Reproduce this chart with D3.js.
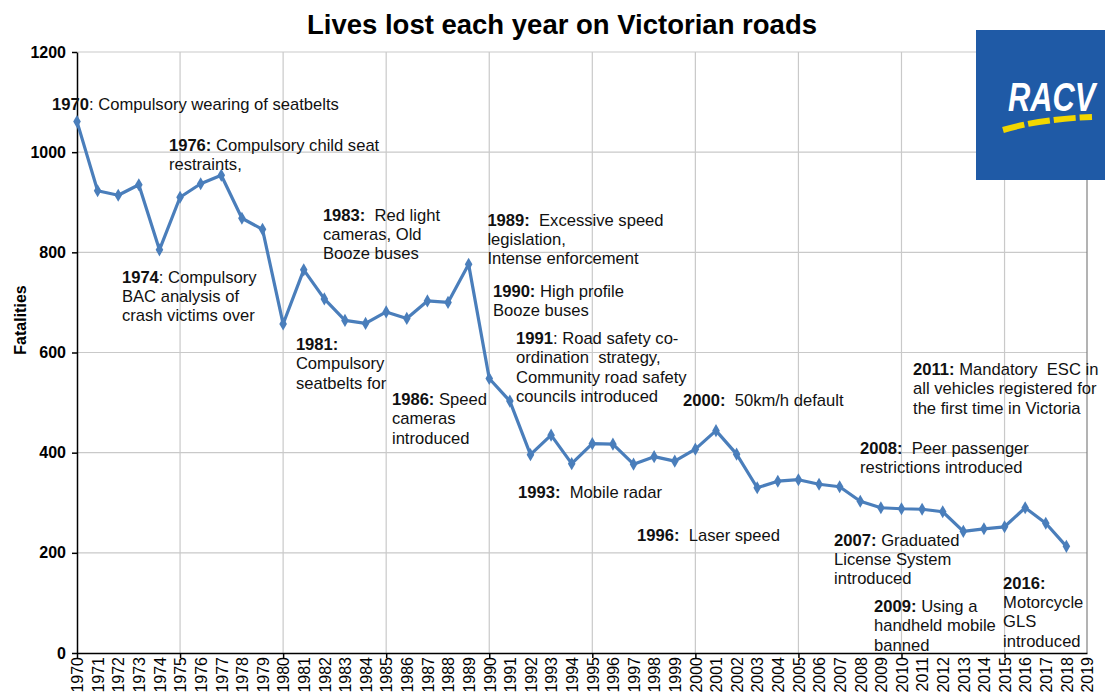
<!DOCTYPE html>
<html>
<head>
<meta charset="utf-8">
<script src="https://cdn.jsdelivr.net/npm/d3@7"></script>
<style>
  body { margin: 0; background: #fff; }
  svg { display: block; font-family: "Liberation Sans", Arial, sans-serif; }
  svg text { white-space: pre; }
</style>
</head>
<body>
<div id="container"></div>
<script>
/* DATA */
const years = [1970, 1971, 1972, 1973, 1974, 1975, 1976, 1977, 1978, 1979,
  1980, 1981, 1982, 1983, 1984, 1985, 1986, 1987, 1988, 1989,
  1990, 1991, 1992, 1993, 1994, 1995, 1996, 1997, 1998, 1999,
  2000, 2001, 2002, 2003, 2004, 2005, 2006, 2007, 2008, 2009,
  2010, 2011, 2012, 2013, 2014, 2015, 2016, 2017, 2018];
const fatalities = [1061, 923, 914, 935, 805, 910, 937, 954, 868, 846,
  657, 765, 707, 664, 658, 681, 668, 703, 700, 776,
  548, 503, 396, 435, 378, 418, 417, 377, 392, 383,
  407, 444, 397, 330, 343, 346, 337, 332, 303, 290,
  288, 287, 282, 243, 248, 252, 290, 259, 213];
const yearLabels = [1970, 1971, 1972, 1973, 1974, 1975, 1976, 1977, 1978, 1979,
  1980, 1981, 1982, 1983, 1984, 1985, 1986, 1987, 1988, 1989,
  1990, 1991, 1992, 1993, 1994, 1995, 1996, 1997, 1998, 1999,
  2000, 2001, 2002, 2003, 2004, 2005, 2006, 2007, 2008, 2009,
  2010, 2011, 2012, 2013, 2014, 2015, 2016, 2017, 2018, 2019];
const yearTicks = [1970, 1975, 1980, 1985, 1990, 1995, 2000, 2005, 2010, 2015];
const valueTicks = [0, 200, 400, 600, 800, 1000, 1200];

// annotation text: bold head, rest of first line, following lines
const notes = [
  { head: "1970", first: ": Compulsory wearing of seatbelts", more: [] },
  { head: "1976:", first: " Compulsory child seat", more: ["restraints,"] },
  { head: "1983:", first: "  Red light", more: ["cameras, Old", "Booze buses"] },
  { head: "1974", first: ": Compulsory", more: ["BAC analysis of", "crash victims over"] },
  { head: "1989:", first: "  Excessive speed", more: ["legislation,", "Intense enforcement"] },
  { head: "1990:", first: " High profile", more: ["Booze buses"] },
  { head: "1991", first: ": Road safety co-", more: ["ordination  strategy,", "Community road safety", "councils introduced"] },
  { head: "1981:", first: "", more: ["Compulsory", "seatbelts for"] },
  { head: "1986:", first: " Speed", more: ["cameras", "introduced"] },
  { head: "2000:", first: "  50km/h default", more: [] },
  { head: "2011:", first: " Mandatory  ESC in", more: ["all vehicles registered for", "the first time in Victoria"] },
  { head: "2008:", first: "  Peer passenger", more: ["restrictions introduced"] },
  { head: "1993:", first: "  Mobile radar", more: [] },
  { head: "1996:", first: "  Laser speed", more: [] },
  { head: "2007:", first: " Graduated", more: ["License System", "introduced"] },
  { head: "2009:", first: " Using a", more: ["handheld mobile", "banned"] },
  { head: "2016:", first: "", more: ["Motorcycle", "GLS", "introduced"] }
];
// where each note's first baseline sits, in chart units [year, fatalities]
const notePlace = [
  [1968.79, 1084], [1974.46, 1002], [1981.93, 863], [1972.18, 739],
  [1989.91, 853], [1990.18, 711], [1991.30, 617], [1980.62, 605],
  [1985.28, 495], [1999.40, 493], [2010.56, 555], [2007.99, 397],
  [1991.40, 309], [1997.17, 224], [2006.73, 214], [2008.67, 82],
  [2014.93, 128]
];

/* CONSTANTS */
const width = 1105;
const height = 700;
const plotLeft = 77, plotRight = 1087, plotTop = 52, plotBottom = 653;

const data = years.map((y, i) => ({ year: y, value: fatalities[i] }));

/* SCALES */
const xScale = d3.scaleLinear().domain([1970, 2019]).range([plotLeft, plotRight]);
const yScale = d3.scaleLinear().domain([0, 1200]).range([plotBottom, plotTop]);

const svg = d3.select("#container")
  .append("svg")
  .attr("width", width)
  .attr("height", height);

// grid
svg.append("g")
  .selectAll("line")
  .data(valueTicks.filter(d => d > 0))
  .join("line")
  .attr("x1", plotLeft).attr("x2", plotRight)
  .attr("y1", d => yScale(d)).attr("y2", d => yScale(d))
  .attr("stroke", "#c9c9c9").attr("stroke-width", 1.2);

svg.append("g")
  .selectAll("line")
  .data(yearTicks.filter(d => d > 1970))
  .join("line")
  .attr("x1", d => xScale(d)).attr("x2", d => xScale(d))
  .attr("y1", plotTop).attr("y2", plotBottom)
  .attr("stroke", "#c9c9c9").attr("stroke-width", 1.2);

svg.append("line")
  .attr("x1", plotRight).attr("x2", plotRight)
  .attr("y1", plotTop).attr("y2", plotBottom)
  .attr("stroke", "#808080").attr("stroke-width", 1.2);

// axes
const yAxis = d3.axisLeft(yScale).tickValues(valueTicks).tickFormat(d3.format("d"))
  .tickSize(5).tickSizeOuter(0).tickPadding(6);
const yG = svg.append("g")
  .attr("transform", `translate(${plotLeft},0)`)
  .call(yAxis);
yG.selectAll("text").attr("font-size", 16).attr("font-weight", "bold").attr("fill", "#000")
  .style("font-family", "'Liberation Sans', Arial, sans-serif");
yG.selectAll("path, line").attr("stroke", "#000").attr("stroke-width", 1.5);

const xTickG = svg.append("g")
  .attr("transform", `translate(0,${plotBottom})`)
  .call(d3.axisBottom(xScale).tickValues(yearTicks).tickSize(5).tickSizeOuter(0).tickFormat(""));
xTickG.selectAll("path, line").attr("stroke", "#000").attr("stroke-width", 1.5);

const xLabG = svg.append("g")
  .attr("transform", `translate(0,${plotBottom})`)
  .call(d3.axisBottom(xScale).tickValues(yearLabels).tickSize(0).tickFormat(d3.format("d")));
xLabG.select(".domain").remove();
xLabG.selectAll("text")
  .attr("transform", "rotate(-90)")
  .attr("text-anchor", "end")
  .attr("x", -4).attr("y", 0).attr("dy", "0.36em")
  .attr("font-size", 16).attr("fill", "#000")
  .style("font-family", "'Liberation Sans', Arial, sans-serif");

// series
const line = d3.line().x(d => xScale(d.year)).y(d => yScale(d.value));
svg.append("path")
  .datum(data)
  .attr("d", line)
  .attr("fill", "none")
  .attr("stroke", "#4a7ebb")
  .attr("stroke-width", 3.2)
  .attr("stroke-linejoin", "round");

svg.append("g")
  .selectAll("path")
  .data(data)
  .join("path")
  .attr("transform", d => `translate(${xScale(d.year)},${yScale(d.value)})`)
  .attr("d", d3.symbol(d3.symbolDiamond, 50))
  .attr("fill", "#4a7ebb");

// annotations
const noteG = svg.append("g").attr("font-size", 16.6).attr("fill", "#111");
notes.forEach((n, i) => {
  const nx = xScale(notePlace[i][0]);
  const t = noteG.append("text")
    .attr("x", nx)
    .attr("y", yScale(notePlace[i][1]));
  t.append("tspan").attr("font-weight", "bold").text(n.head);
  t.append("tspan").text(n.first);
  n.more.forEach(s => {
    t.append("tspan")
      .attr("x", nx)
      .attr("dy", 19.3)
      .text(s);
  });
});

// title and axis title
svg.append("text")
  .attr("x", 562).attr("y", 34)
  .attr("text-anchor", "middle")
  .attr("font-size", 27.5).attr("font-weight", "bold")
  .text("Lives lost each year on Victorian roads");

svg.append("text")
  .attr("transform", "translate(26,320) rotate(-90)")
  .attr("text-anchor", "middle")
  .attr("font-size", 16).attr("font-weight", "bold")
  .text("Fatalities");

// RACV logo
const logo = svg.append("g");
logo.append("rect")
  .attr("x", 976).attr("y", 30).attr("width", 129).attr("height", 150)
  .attr("fill", "#1f5aa6");
logo.append("text")
  .attr("transform", "translate(1008,111) scale(0.77,1)")
  .attr("font-size", 40).attr("font-weight", "bold").attr("font-style", "italic")
  .attr("fill", "#fff")
  .text("RACV");
logo.append("path")
  .attr("d", "M1003,130 Q1040,119 1092,117")
  .attr("fill", "none")
  .attr("stroke", "#f2d700")
  .attr("stroke-width", 6)
  .attr("stroke-dasharray", "22 4");
</script>
</body>
</html>
